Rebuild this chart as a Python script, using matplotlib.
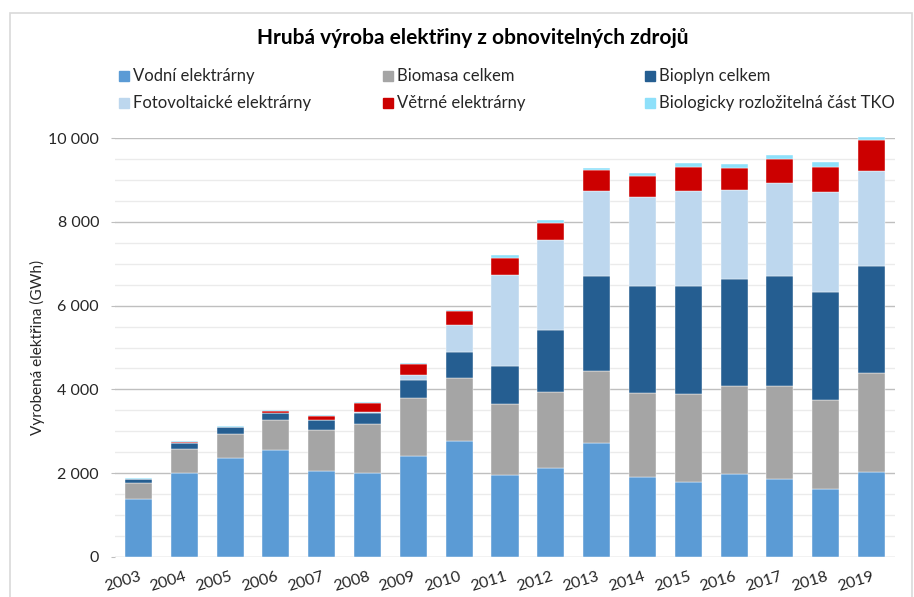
import numpy as np
import matplotlib.pyplot as plt
from matplotlib.patches import Rectangle
from matplotlib.ticker import MultipleLocator, FuncFormatter

plt.rcParams['font.family'] = ['Lato', 'DejaVu Sans']

roky = ['2003', '2004', '2005', '2006', '2007', '2008', '2009', '2010', '2011',
        '2012', '2013', '2014', '2015', '2016', '2017', '2018', '2019']

# GWh
vodni = [1373, 2000, 2365, 2540, 2056, 2000, 2397, 2762, 1960, 2127, 2725, 1896, 1793, 1984, 1865, 1610, 2016]
biomasa = [381, 580, 564, 730, 984, 1175, 1405, 1500, 1689, 1817, 1705, 2016, 2087, 2096, 2215, 2127, 2382]
bioplyn = [111, 142, 159, 175, 222, 254, 420, 628, 909, 1474, 2279, 2566, 2598, 2565, 2629, 2590, 2542]
fotovolt = [0, 0, 0, 0, 2, 20, 110, 641, 2183, 2152, 2040, 2127, 2271, 2128, 2215, 2390, 2287]
vetrne = [4, 10, 23, 39, 109, 223, 285, 334, 398, 398, 486, 486, 574, 518, 574, 606, 725]
tko = [15, 24, 24, 24, 24, 23, 24, 38, 79, 80, 48, 80, 79, 87, 103, 103, 80]

serie = [
    ('Vodní elektrárny', vodni, '#5B9BD5'),
    ('Biomasa celkem', biomasa, '#A5A5A5'),
    ('Bioplyn celkem', bioplyn, '#255E91'),
    ('Fotovoltaické elektrárny', fotovolt, '#BDD7EE'),
    ('Větrné elektrárny', vetrne, '#CC0000'),
    ('Biologicky rozložitelná část TKO', tko, '#8EE0FA'),
]

fig = plt.figure(figsize=(9.14, 5.97), dpi=100)
ax = fig.add_axes([115/914, 1 - 556.7/597, 780/914, 418.4/597])

x = np.arange(len(roky))
spodek = np.zeros(len(roky))
for nazev, hodnoty, barva in serie:
    ax.bar(x, hodnoty, 0.59, bottom=spodek, color=barva, edgecolor='white',
           linewidth=0.3, label=nazev, zorder=3, clip_on=False)
    spodek += np.array(hodnoty)

ax.set_xlim(-0.51, 16.51)
ax.set_ylim(0, 10000)
ax.yaxis.set_major_locator(MultipleLocator(2000))
ax.yaxis.set_minor_locator(MultipleLocator(500))
ax.yaxis.set_major_formatter(FuncFormatter(lambda v, p: f'{int(v):,}'.replace(',', ' ')))
ax.grid(axis='y', which='major', color='#BFBFBF', linewidth=1.0, zorder=0)
ax.grid(axis='y', which='minor', color='#EBEBEB', linewidth=1.0, zorder=0)
for s in ax.spines.values():
    s.set_visible(False)
ax.tick_params(axis='y', which='major', length=3, color='#BFBFBF', pad=8.5,
               labelsize=11.5, labelcolor='#262626')
ax.tick_params(axis='y', which='minor', length=0)
ax.tick_params(axis='x', length=0, pad=9, labelsize=11.5, labelcolor='#262626')
ax.set_xticks(x)
ax.set_xticklabels(roky, rotation=17, ha='right', va='top', rotation_mode='anchor')

ax.set_ylabel('Vyrobená elektřina (GWh)', fontsize=11, color='#262626', labelpad=2)

fig.text(473/914, 1 - 38/597, 'Hrubá výroba elektřiny z obnovitelných zdrojů',
         ha='center', va='center', fontsize=15, fontweight='bold', color='#000000')

# legenda ve třech sloupcích
pozice_x = [119, 383, 645, 119, 383, 645]
pozice_y = [76, 76, 76, 103, 103, 103]
for (nazev, hodnoty, barva), px, py in zip(serie, pozice_x, pozice_y):
    fig.patches.append(Rectangle((px/914, 1 - (py + 5)/597), 10/914, 10/597,
                                 transform=fig.transFigure, color=barva))
    fig.text((px + 14)/914, 1 - py/597, nazev, ha='left', va='center',
             fontsize=12, color='#262626')

fig.patches.append(Rectangle((10/914, -0.1), 902/914, 1.1 - 13/597,
                             transform=fig.transFigure, fill=False,
                             edgecolor='#D9D9D9', linewidth=1.2))

fig.savefig('out.png', dpi=100)
